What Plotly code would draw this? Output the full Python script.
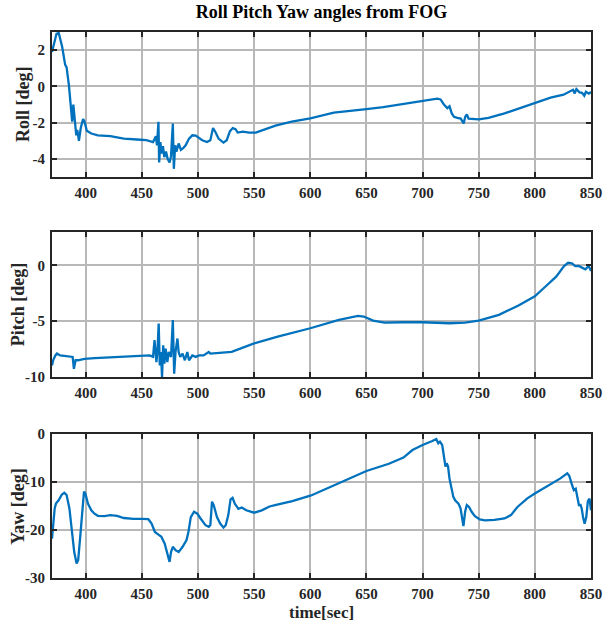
import plotly.graph_objects as go

# ---------------- data ----------------
roll_t = [370, 372, 374, 376, 377.5, 379, 381.7, 383, 385, 387, 388, 389, 390.4, 391.6, 392.5, 394,
          395.6, 397.7, 399, 401, 405, 410.8, 422, 434, 445.6, 454, 460, 462.5, 463.5, 464.8, 465.4,
          466.5, 467.7, 468.8, 470, 471.5, 473, 474.7, 476, 477.6, 478.5, 479.7, 480.8, 482.8, 484.8,
          487, 489, 492, 495, 498, 503.8, 508, 511, 513.4, 515.4, 518.3, 522.7, 525.6, 528.5, 531,
          533.4, 535.4, 540, 545.6, 551.5, 569, 583.5, 600, 621, 642, 650, 665, 680, 694, 706, 713,
          716, 719, 722, 724, 726, 728, 731, 734, 736.6, 738, 739.5, 741, 750, 758.7, 773, 785, 800,
          814, 825.6, 831.4, 834, 835.5, 837, 839.8, 842, 844, 845.5, 848, 850]
roll_deg = [1.9, 2.4, 2.9, 2.95, 2.6, 2.2, 1.2, 1.05, 0.1, -1.2, -1.95, -1.0, -2.1, -2.7, -2.4, -3.0,
            -2.3, -1.8, -1.95, -2.45, -2.6, -2.7, -2.75, -2.88, -2.93, -2.97, -3.07, -2.75, -3.25, -1.95, -4.2,
            -3.07, -3.7, -3.3, -3.9, -3.6, -4.0, -4.2, -3.85, -2.05, -4.55, -3.25, -3.6, -3.15, -3.5,
            -3.4, -3.25, -2.88, -2.7, -2.72, -2.97, -3.07, -2.97, -2.3, -2.5, -2.88, -3.1, -2.97, -2.47, -2.3,
            -2.36, -2.55, -2.5, -2.55, -2.55, -2.17, -1.95, -1.77, -1.45, -1.28, -1.25, -1.15, -1.0, -0.85, -0.75, -0.68,
            -0.72, -1.0, -1.2, -1.1, -1.49, -1.68, -1.74, -1.78, -2.05, -1.68, -1.55, -1.78, -1.82, -1.74, -1.49, -1.24, -0.91,
            -0.62, -0.46, -0.27, -0.19, -0.39, -0.15, -0.33, -0.36, -0.52, -0.3, -0.4, -0.31]

pitch_t = [370, 371, 373, 374.4, 377.3, 381.7, 386, 388.4, 389.5, 391, 393, 399, 408, 416.6, 431, 445.6,
           457, 460, 461.3, 462.2, 463, 464, 465, 466, 467, 468, 469, 470.1, 471.2, 472.7, 474, 476,
           477.6, 478.8, 480, 481.7, 482.8, 484.2, 486.3, 488.3, 490.5, 492, 495, 498, 501, 505, 509.6,
           511, 521, 530, 550, 571, 600, 625.5, 642.5, 647.6, 656, 666, 683, 700, 724, 737.8, 750, 768,
           785, 800, 809, 819, 826, 829.6, 833, 836, 839, 842.5, 845, 848, 850]
pitch_deg = [-8.97, -8.5, -8.07, -7.9, -8.07, -8.13, -8.13, -8.2, -9.27, -8.5, -8.5, -8.37, -8.3, -8.25, -8.16, -8.07,
             -8.07, -8.2, -6.7, -7.76, -8.67, -7.5, -5.2, -8.97, -7.76, -10.0, -7.16, -8.8, -7.46, -8.67, -7.76, -8.2,
             -4.9, -9.7, -7.76, -6.55, -7.76, -8.2, -7.9, -8.5, -7.76, -8.5, -8.07, -8.2, -8.07, -8.07, -7.76,
             -7.9, -7.82, -7.74, -6.99, -6.39, -5.63, -4.88, -4.52, -4.58, -4.94, -5.12, -5.09, -5.09, -5.18, -5.12, -4.94, -4.43,
             -3.61, -2.77, -1.93, -1.0, -0.06, 0.24, 0.18, -0.06, -0.05, -0.2, -0.35, -0.05, -0.5]

yaw_t = [370, 370.6, 372.4, 373.5, 375.9, 378.8, 381, 383, 385.5, 387.5, 389.8, 391.9, 393.3, 395, 396.8,
         398.5, 399.7, 402, 405, 407.8, 410.8, 416.6, 422, 428, 434, 442.7, 450, 455.8, 458.7, 461.6,
         464.5, 467.4, 470.3, 472.7, 474.7, 476, 477.6, 480, 482.8, 486.3, 489.8, 491.5, 493.6, 496.5,
         499.4, 502.3, 506.7, 509.6, 511, 512.5, 514, 516.9, 519.8, 522.7, 524.7, 527, 529, 530.8, 532.8,
         536, 539, 543, 550, 556.8, 563.7, 570.5, 584, 600.7, 625, 650, 670, 683, 691, 700, 708.7, 712.2,
         714, 715.5, 717.5, 719, 720.4, 721.5, 722.7, 724, 725.7, 727.4, 729, 732, 733.8, 735, 736.4,
         737.9, 739.4, 741.4, 743.7, 746.6, 751, 755.4, 764, 773, 778.7, 784.5, 793.3, 800, 813.7, 822.4,
         828.9, 830.6, 832.7, 834.7, 836.4, 837.6, 839.4, 840.5, 841.7, 842.9, 844.3, 845.8, 847.2, 848.7, 850]
yaw_deg = [-21.8, -20.4, -15.5, -14.5, -13.8, -12.6, -12.25, -12.7, -15.5, -19.7, -24.6, -27.0, -26.3, -21.8, -16.2,
           -12.0, -12.4, -14.5, -15.9, -16.6, -17.05, -17.1, -16.9, -17.05, -17.5, -17.7, -17.7, -17.75, -18.65, -20.4,
           -20.9, -21.4, -22.8, -24.9, -26.65, -24.6, -23.5, -24.2, -24.6, -23.5, -22.1, -20.4, -17.3, -16.2,
           -16.6, -17.6, -19.0, -19.35, -19.0, -14.1, -14.8, -17.3, -18.65, -19.5, -19.0, -16.9, -13.6, -13.3, -14.5,
           -15.6, -15.3, -15.9, -16.4, -15.9, -15.1, -14.7, -14.0, -12.8, -10.3, -7.7, -6.2, -4.9, -3.35, -2.3, -1.46, -1.05,
           -1.95, -1.6, -2.3, -4.4, -6.8, -6.1, -6.8, -9.3, -11.4, -13.1, -13.8, -14.5, -15.5, -17.3, -19.2,
           -16.2, -14.8, -15.2, -16.2, -17.1, -17.8, -18.0, -17.9, -17.6, -16.9, -15.2, -13.4, -12.4, -10.5, -9.3,
           -8.2, -8.7, -10.3, -11.7, -11.4, -12.75, -15.0, -14.6, -15.5, -17.3, -18.7, -17.3, -14.0, -13.45, -15.9]

x_ticks = [400, 450, 500, 550, 600, 650, 700, 750, 800, 850]
roll_ticks = [-4, -2, 0, 2]
pitch_ticks = [-10, -5, 0]
yaw_ticks = [-30, -20, -10, 0]

title_text = "Roll Pitch Yaw angles from FOG"
y_titles = ["Roll [deg]", "Pitch [deg]", "Yaw [deg]"]
x_title = "time[sec]"

# ---------------- figure ----------------
LINE = "#0072BD"
FONT = "Liberation Serif"
W, H = 614, 623
ML, MR, MT, MB = 52, 12, 32, 45
PH = H - MT - MB
PW = W - ML - MR

def dom(top_px, bot_px):
    return [(H - MB - bot_px) / PH, (H - MB - top_px) / PH]

doms = [dom(32, 177), dom(232, 377), dom(434, 578)]
ytitle_x_px = [23, 17, 17]

fig = go.Figure()
series = [(roll_t, roll_deg), (pitch_t, pitch_deg), (yaw_t, yaw_deg)]
for i, (t, v) in enumerate(series):
    sfx = "" if i == 0 else str(i + 1)
    fig.add_trace(go.Scatter(x=t, y=v, mode="lines", line=dict(color=LINE, width=2.3),
                             xaxis="x" + sfx, yaxis="y" + sfx, showlegend=False))

tickfont = dict(family=FONT, size=15, color="#262626", weight="bold")
common = dict(showline=True, linecolor="#262626", linewidth=2, mirror="ticks",
              ticks="inside", ticklen=5, tickwidth=1.5, tickcolor="#262626",
              showgrid=True, gridcolor="#b8b8b8", gridwidth=1.5, zeroline=False,
              tickfont=tickfont)

layout = dict(width=W, height=H, margin=dict(l=ML, r=MR, t=MT, b=MB),
              plot_bgcolor="white", paper_bgcolor="white",
              title=dict(text=title_text, x=0.5, xref="paper", xanchor="center",
                         y=1 - 12 / H, yref="container", yanchor="middle",
                         font=dict(family=FONT, size=18, color="#000000", weight="bold")))

yranges = [[-5, 3], [-10, 3], [-30, 0]]
yticks = [roll_ticks, pitch_ticks, yaw_ticks]
for i in range(3):
    sfx = "" if i == 0 else str(i + 1)
    layout["xaxis" + sfx] = dict(common, range=[370, 850], tickvals=x_ticks,
                                 ticktext=[str(v) for v in x_ticks],
                                 anchor="y" + sfx, domain=[0, 1], ticklabelstandoff=1)
    layout["yaxis" + sfx] = dict(common, range=yranges[i], tickvals=yticks[i],
                                 ticktext=[str(v) for v in yticks[i]],
                                 anchor="x" + sfx, domain=doms[i], ticklabelstandoff=2)

annotations = []
for i, txt in enumerate(y_titles):
    mid = (doms[i][0] + doms[i][1]) / 2
    annotations.append(dict(text=txt, textangle=-90, xref="paper", yref="paper",
                            x=-(ML - ytitle_x_px[i]) / PW, y=mid, xanchor="center", yanchor="middle",
                            showarrow=False, font=dict(family=FONT, size=18, color="#262626", weight="bold")))
annotations.append(dict(text=x_title, xref="paper", yref="paper", x=0.5, y=-(612 - (H - MB)) / PH,
                        xanchor="center", yanchor="middle", showarrow=False,
                        font=dict(family=FONT, size=17, color="#262626", weight="bold")))
layout["annotations"] = annotations

fig.update_layout(**layout)
fig.write_html("out.html")
